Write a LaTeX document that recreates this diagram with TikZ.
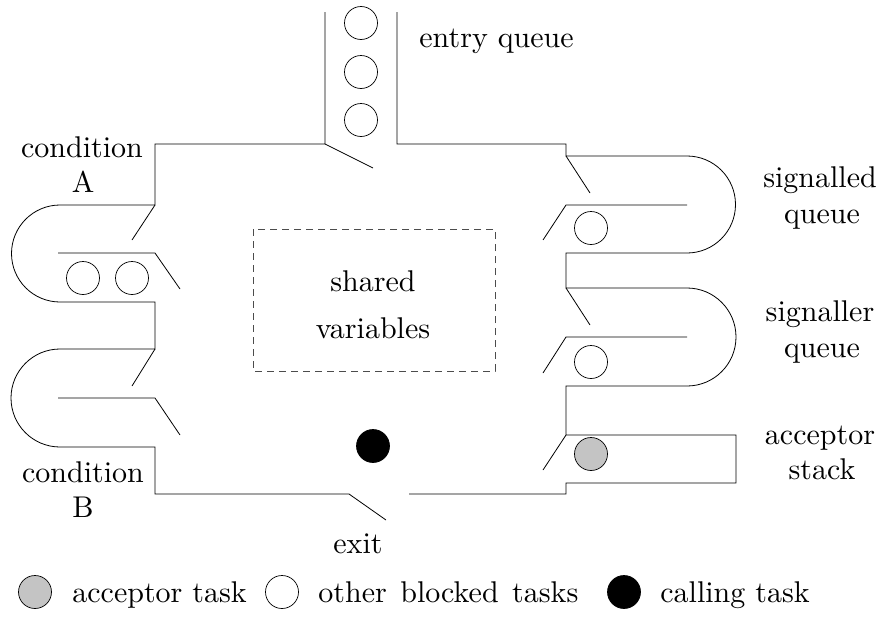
\documentclass[tikz,border=0pt]{standalone}
\usepackage{graphicx}
\begin{document}
\begin{tikzpicture}[x=1pt,y=-1pt,line width=0.8pt,
  wall/.style={draw=black,line join=miter},
  gate/.style={draw=black},
  task/.style={circle,draw=black,line width=0.7pt,minimum size=33pt,inner sep=0pt},
  blocked/.style={task,fill=white},
  acceptor/.style={task,fill=black!23},
  calling/.style={task,fill=black},
  lbl/.style={anchor=base,inner sep=0pt,font=\fontsize{10}{12}\selectfont},
  lblw/.style={lbl,anchor=base west}]
\useasboundingbox (0,0) rectangle (883,616);

% monitor walls, with the queue loops
\draw[wall] (349,494) -- (155,494) -- (155,447) -- (60,447)
  arc[start angle=90,end angle=270,radius=49] -- (155,349) -- (155,302) -- (60,302)
  arc[start angle=90,end angle=270,radius=48.5] -- (155,205) -- (155,144) -- (325,144) -- (325,12);
\draw[wall] (397,12) -- (397,144) -- (566,144) -- (566,156) -- (687,156)
  arc[start angle=-90,end angle=90,radius=48.5] -- (566,253) -- (566,288) -- (687,288)
  arc[start angle=-90,end angle=90,radius=49] -- (566,386) -- (566,435) -- (736,435)
  -- (736,483) -- (566,483) -- (566,494) -- (409,494);

% gates
\draw[gate] (325,144) -- (373,168);
\draw[gate] (155,205) -- (132,240);
\draw[gate] (58,253) -- (155,253) -- (180,289);
\draw[gate] (155,349) -- (132,386);
\draw[gate] (58,398) -- (155,398) -- (180,435);
\draw[gate] (566,156) -- (590,193);
\draw[gate] (687,205) -- (566,205) -- (543,240);
\draw[gate] (566,288) -- (590,325);
\draw[gate] (687,337) -- (566,337) -- (543,373);
\draw[gate] (566,435) -- (543,470);
\draw[gate] (349,494) -- (386,520);

% shared variables
\draw[black!70,dash pattern=on 7pt off 5pt,line width=0.7pt] (253,229) rectangle (495,371);
\node[lbl] (sh1) at (373,291) {\scalebox{3}{shared}};
\node[lbl] (sh2) at (373,338) {\scalebox{3}{variables}};

% tasks
\node[blocked] (e1) at (361,23) {};
\node[blocked] (e2) at (361,72) {};
\node[blocked] (e3) at (361,120) {};
\node[blocked] (ca1) at (83,278) {};
\node[blocked] (ca2) at (132,278) {};
\node[blocked] (sd1) at (591,228) {};
\node[blocked] (sr1) at (591,362) {};
\node[acceptor] (ac1) at (591,454) {};
\node[calling] (cl1) at (373,446) {};

% labels
\node[lblw] (entry) at (419,47) {\scalebox{3}{entry queue}};
\node[lbl] (condA1) at (82,157) {\scalebox{3}{condition}};
\node[lbl] (condA2) at (83,192) {\scalebox{3}{A}};
\node[lbl] (condB1) at (83,482) {\scalebox{3}{condition}};
\node[lbl] (condB2) at (83,517) {\scalebox{3}{B}};
\node[lbl] (sig1) at (820,187) {\scalebox{3}{signalled}};
\node[lbl] (sig2) at (822,223) {\scalebox{3}{queue}};
\node[lbl] (snr1) at (820,321) {\scalebox{3}{signaller}};
\node[lbl] (snr2) at (822,357) {\scalebox{3}{queue}};
\node[lbl] (acc1) at (820,444) {\scalebox{3}{acceptor}};
\node[lbl] (acc2) at (822,479) {\scalebox{3}{stack}};
\node[lbl] (exit) at (358,553) {\scalebox{3}{exit}};

% legend
\node[acceptor] (lg1) at (35,592) {};
\node[lblw] (lt1) at (72,602) {\scalebox{3}{acceptor task}};
\node[blocked] (lg2) at (282,592) {};
\node[lblw] (lt2) at (318,602) {\scalebox{3}{other\hspace{4.5pt}blocked\hspace{4.5pt}tasks}};
\node[calling] (lg3) at (624,592) {};
\node[lblw] (lt3) at (660,602) {\scalebox{3}{calling task}};
\end{tikzpicture}
\end{document}
